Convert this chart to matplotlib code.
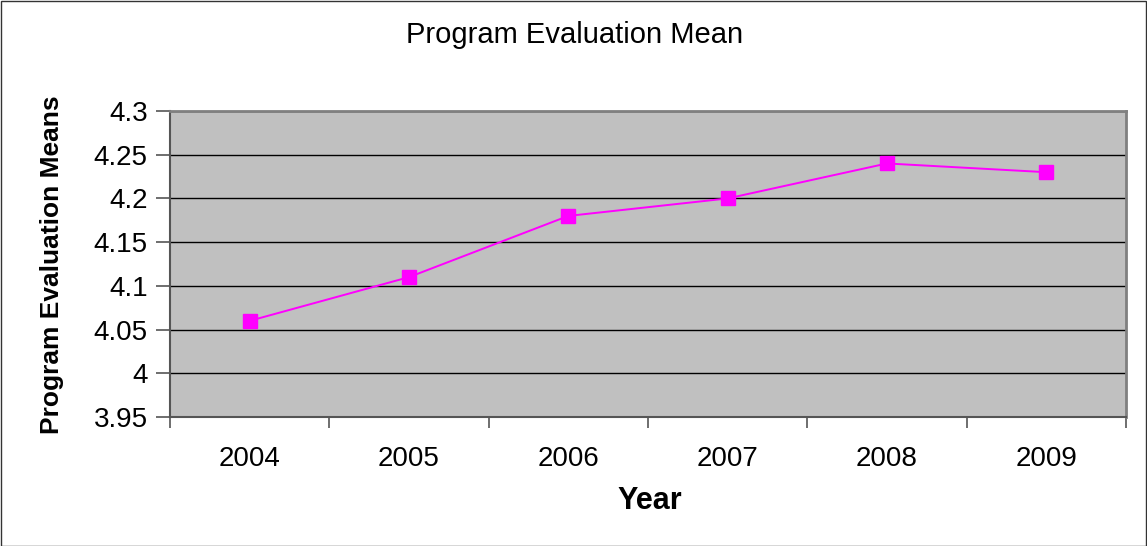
import matplotlib
matplotlib.use("Agg")
import matplotlib.pyplot as plt
from matplotlib.patches import Rectangle
from matplotlib.ticker import FixedLocator

plt.rcParams['font.family'] = ['Liberation Sans', 'DejaVu Sans']

years = ["2004", "2005", "2006", "2007", "2008", "2009"]
means = [4.06, 4.11, 4.18, 4.20, 4.24, 4.23]
y_ticks = [3.95, 4.0, 4.05, 4.1, 4.15, 4.2, 4.25, 4.3]
y_tick_labels = ["3.95", "4", "4.05", "4.1", "4.15", "4.2", "4.25", "4.3"]

W, H = 1147, 546
fig = plt.figure(figsize=(W / 100, H / 100), dpi=100)
fig.patch.set_facecolor("white")

# outer chart frame
fig.add_artist(Rectangle((0.5 / W, 0.5 / H), 1 - 1.5 / W, 1 - 1.5 / H,
                         transform=fig.transFigure, fill=False,
                         edgecolor="#333333", linewidth=1.0))

left, right, top, bottom = 170, 1126, 111, 417
ax = fig.add_axes([left / W, 1 - bottom / H, (right - left) / W, (bottom - top) / H])
ax.set_facecolor("#C0C0C0")

x = list(range(len(years)))
ax.plot(x, means, color="#FF00FF", linewidth=1.4, marker="s",
        markersize=9.5, markerfacecolor="#FF00FF", markeredgecolor="#FF00FF",
        zorder=3)

ax.set_xlim(-0.5, len(years) - 0.5)
ax.set_ylim(3.95, 4.3)
ax.set_yticks(y_ticks)
ax.set_yticklabels(y_tick_labels)
ax.yaxis.grid(True, color="black", linewidth=1.0)
ax.set_axisbelow(True)

ax.set_xticks(x)
ax.set_xticklabels(years)
ax.xaxis.set_minor_locator(FixedLocator([i - 0.5 for i in range(len(years) + 1)]))
ax.tick_params(axis="x", which="major", length=0, pad=21, labelsize=20)
ax.tick_params(axis="x", which="minor", length=8, width=1.2, color="#555555")
ax.tick_params(axis="y", length=10, width=1.2, color="#555555", pad=6, labelsize=20)

for side in ["top", "right"]:
    ax.spines[side].set_color("#808080")
    ax.spines[side].set_linewidth(2)
ax.spines["left"].set_color("#555555")
ax.spines["left"].set_linewidth(1.5)
ax.spines["bottom"].set_color("#555555")
ax.spines["bottom"].set_linewidth(1.5)

fig.text(575 / W, 1 - 43 / H, "Program Evaluation Mean", ha="center", va="baseline",
         fontsize=21)
fig.text(52 / W, 1 - 265 / H, "Program Evaluation Means", ha="center", va="center",
         rotation=90, fontsize=19, fontweight="bold")
fig.text(650 / W, 1 - 509 / H, "Year", ha="center", va="baseline",
         fontsize=22, fontweight="bold")

fig.savefig("out.png", dpi=100)
